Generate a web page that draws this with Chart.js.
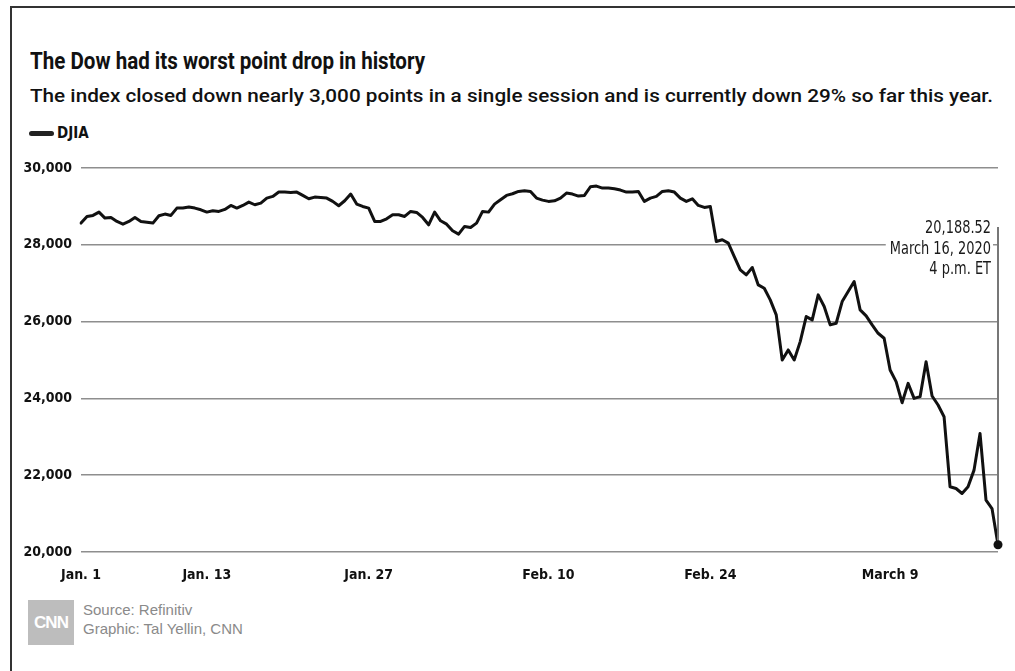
<!DOCTYPE html>
<html>
<head>
<meta charset="utf-8">
<script src="https://cdn.jsdelivr.net/npm/chart.js@4.4.1/dist/chart.umd.min.js"></script>
<style>
  html, body { margin: 0; padding: 0; background: #fff; }
  body { width: 1015px; height: 671px; position: relative; overflow: hidden; }
  .frame { position: absolute; left: 10px; top: 6px; width: 1100px; height: 800px;
           border-left: 2px solid #333; border-top: 2px solid #333; }
  .narrow { font-family: "Liberation Sans Narrow", "DejaVu Sans Condensed", "Arial Narrow", sans-serif; }
  .fit { transform-origin: 0 0; }
  #title { position: absolute; left: 30px; top: 47px; font-family: Roboto, "Open Sans", sans-serif; font-size: 24px; font-weight: bold; color: #111; white-space: nowrap; }
  #subtitle { position: absolute; left: 30px; top: 85px; font-family: Roboto, "Open Sans", sans-serif; font-size: 18px; font-weight: 500; color: #111; white-space: nowrap; }
  #legend { position: absolute; left: 29px; top: 124px; font-size: 15px; font-weight: bold; color: #111; display: flex; align-items: center; white-space: nowrap; }
  #legend .bar { display: inline-block; width: 25px; height: 5px; border-radius: 3px; background: #222; margin-right: 3px; }
  #chart { position: absolute; left: 0; top: 150px; }
  #logo { position: absolute; left: 28px; top: 600px; width: 46px; height: 45px; background: #bdbdbd; color: #fff;
          font-family: "Liberation Sans", Arial, sans-serif; font-weight: bold; font-size: 17px; letter-spacing: -1px;
          display: flex; align-items: center; justify-content: center; }
  #source { position: absolute; left: 83px; top: 600px; font-family: "Liberation Sans", Arial, sans-serif; font-size: 15px; line-height: 19px; color: #8a8a8a; }
</style>
</head>
<body>
<div class="frame"></div>
<div id="title" class="fit">The Dow had its worst point drop in history</div>
<div id="subtitle" class="fit">The index closed down nearly 3,000 points in a single session and is currently down 29% so far this year.</div>
<div id="legend" class="narrow"><span class="bar"></span>DJIA</div>
<canvas id="chart" width="1015" height="440"></canvas>
<div id="logo">CNN</div>
<div id="source">Source: Refinitiv<br>Graphic: Tal Yellin, CNN</div>
<script>
// Trading sessions shown on the chart
const tradingDays = ['Jan. 2','Jan. 3','Jan. 6','Jan. 7','Jan. 8','Jan. 9','Jan. 10','Jan. 13','Jan. 14','Jan. 15','Jan. 16','Jan. 17','Jan. 21','Jan. 22','Jan. 23','Jan. 24','Jan. 27','Jan. 28','Jan. 29','Jan. 30','Jan. 31','Feb. 3','Feb. 4','Feb. 5','Feb. 6','Feb. 7','Feb. 10','Feb. 11','Feb. 12','Feb. 13','Feb. 14','Feb. 18','Feb. 19','Feb. 20','Feb. 21','Feb. 24','Feb. 25','Feb. 26','Feb. 27','Feb. 28','March 2','March 3','March 4','March 5','March 6','March 9','March 10','March 11','March 12','March 13','March 16'];
const sessionTimes = ['9:30 a.m.', '11:40 a.m.', '1:50 p.m.'];
const finalTime = '4 p.m.';

// DJIA level, three readings per session plus the final close
const djia = [
  28565, 28738, 28765, 28851, 28695, 28712, 28608, 28538, 28608, 28712, 28608, 28590, 28565,
  28756, 28800, 28765, 28956, 28956, 28982, 28956, 28912, 28851, 28886, 28869, 28921, 29025,
  28956, 29025, 29112, 29043, 29086, 29216, 29260, 29373, 29373, 29364, 29373, 29286, 29199,
  29243, 29234, 29216, 29130, 29017, 29147, 29321, 29060, 28999, 28956, 28608, 28608, 28678,
  28782, 28782, 28738, 28869, 28843, 28712, 28521, 28851, 28625, 28538, 28365, 28278, 28478,
  28452, 28565, 28869, 28851, 29060, 29173, 29286, 29330, 29390, 29408, 29390, 29216,
  29164, 29130, 29147, 29216, 29347, 29321, 29269, 29286, 29512, 29529, 29477, 29477, 29460,
  29425, 29373, 29373, 29390, 29130, 29216, 29260, 29390, 29408, 29373, 29216, 29130, 29199,
  29025, 28973, 28999, 28086, 28130, 28043, 27695, 27347, 27217, 27408, 26956, 26869, 26565, 26174,
  24999, 25262, 24999, 25479, 26131, 26044, 26696, 26392, 25914, 25957, 26522, 26783, 27044,
  26305, 26148, 25914, 25696, 25566, 24740, 24436, 23888, 24392, 24001, 24045, 24957, 24062,
  23827, 23523, 21698, 21654, 21524, 21698, 22132, 23088, 21350, 21132, 20188.52
];

// Axis ticks
const xTickDays = ['Jan. 2', 'Jan. 13', 'Jan. 27', 'Feb. 10', 'Feb. 24', 'March 9'];
const xTickText = ['Jan. 1', 'Jan. 13', 'Jan. 27', 'Feb. 10', 'Feb. 24', 'March 9'];
const yMin = 20000, yMax = 30000, yStep = 2000;

// Annotation for last reading
const lastNote = ['20,188.52', 'March 16, 2020', '4 p.m. ET'];

const labels = [];
tradingDays.forEach(d => sessionTimes.forEach(t => labels.push(d + ' ' + t)));
labels.push(tradingDays[tradingDays.length - 1] + ' ' + finalTime);

const NARROW = '"Liberation Sans Narrow", "DejaVu Sans Condensed", "Arial Narrow", sans-serif';
const lastIdx = djia.length - 1;
const NOTE_SQUEEZE = 0.8;

function fitWidth(id, target) {
  const el = document.getElementById(id);
  el.style.transform = 'none';
  const w = el.getBoundingClientRect().width;
  if (w > 0) el.style.transform = 'scaleX(' + (target / w) + ')';
}

const notePlugin = {
  id: 'note',
  afterDraw(chart) {
    const ctx = chart.ctx;
    const pt = chart.getDatasetMeta(0).data[lastIdx];
    const area = chart.chartArea;
    const topY = area.top + 59;
    ctx.save();
    ctx.font = '18px ' + NARROW;
    ctx.textAlign = 'right';
    ctx.textBaseline = 'alphabetic';
    const tx = pt.x - 7;
    const base = [topY + 6, topY + 27, topY + 47];
    lastNote.forEach((s, i) => {
      const w = ctx.measureText(s).width * NOTE_SQUEEZE;
      ctx.fillStyle = '#fff';
      ctx.fillRect(tx - w - 4, base[i] - 15, w + 6, 20);
    });
    ctx.strokeStyle = '#777';
    ctx.lineWidth = 2;
    ctx.beginPath();
    ctx.moveTo(pt.x, topY);
    ctx.lineTo(pt.x, pt.y);
    ctx.stroke();
    ctx.fillStyle = '#1a1a1a';
    lastNote.forEach((s, i) => {
      ctx.save();
      ctx.translate(tx, base[i]);
      ctx.scale(NOTE_SQUEEZE, 1);
      ctx.fillText(s, 0, 0);
      ctx.restore();
    });
    ctx.fillStyle = '#111';
    ctx.beginPath();
    ctx.arc(pt.x, pt.y, 4.5, 0, Math.PI * 2);
    ctx.fill();
    ctx.restore();
  }
};

new Chart(document.getElementById('chart'), {
  type: 'line',
  data: {
    labels: labels,
    datasets: [{
      label: 'DJIA',
      data: djia,
      borderColor: '#111',
      borderWidth: 3,
      borderJoinStyle: 'round',
      borderCapStyle: 'round',
      pointRadius: 0,
      tension: 0,
      fill: false
    }]
  },
  options: {
    responsive: false,
    animation: false,
    devicePixelRatio: 1,
    layout: { padding: { left: 0, right: 17, top: 18, bottom: 0 } },
    plugins: { legend: { display: false }, tooltip: { enabled: false } },
    scales: {
      x: {
        type: 'category',
        offset: false,
        grid: { display: false, drawTicks: false },
        border: { display: false },
        afterFit: s => { s.height = 38; },
        ticks: {
          autoSkip: false,
          maxRotation: 0,
          padding: 15,
          color: '#111',
          font: { family: NARROW, size: 14, weight: 'bold' },
          callback: function (v, i) {
            const lab = labels[i];
            for (let k = 0; k < xTickDays.length; k++) {
              if (lab === xTickDays[k] + ' ' + sessionTimes[0]) return xTickText[k];
            }
            return null;
          }
        }
      },
      y: {
        min: yMin,
        max: yMax,
        grid: { color: '#8e8e8e', lineWidth: 1.5, drawTicks: false },
        border: { display: false },
        afterFit: s => { s.width = 81; },
        ticks: {
          stepSize: yStep,
          padding: 9,
          color: '#111',
          font: { family: NARROW, size: 14, weight: 'bold' },
          callback: v => v.toLocaleString('en-US')
        }
      }
    }
  },
  plugins: [notePlugin]
});

fitWidth('title', 395);
fitWidth('subtitle', 963);
if (document.fonts && document.fonts.ready) {
  document.fonts.ready.then(() => { fitWidth('title', 395); fitWidth('subtitle', 963); });
}
</script>
</body>
</html>
